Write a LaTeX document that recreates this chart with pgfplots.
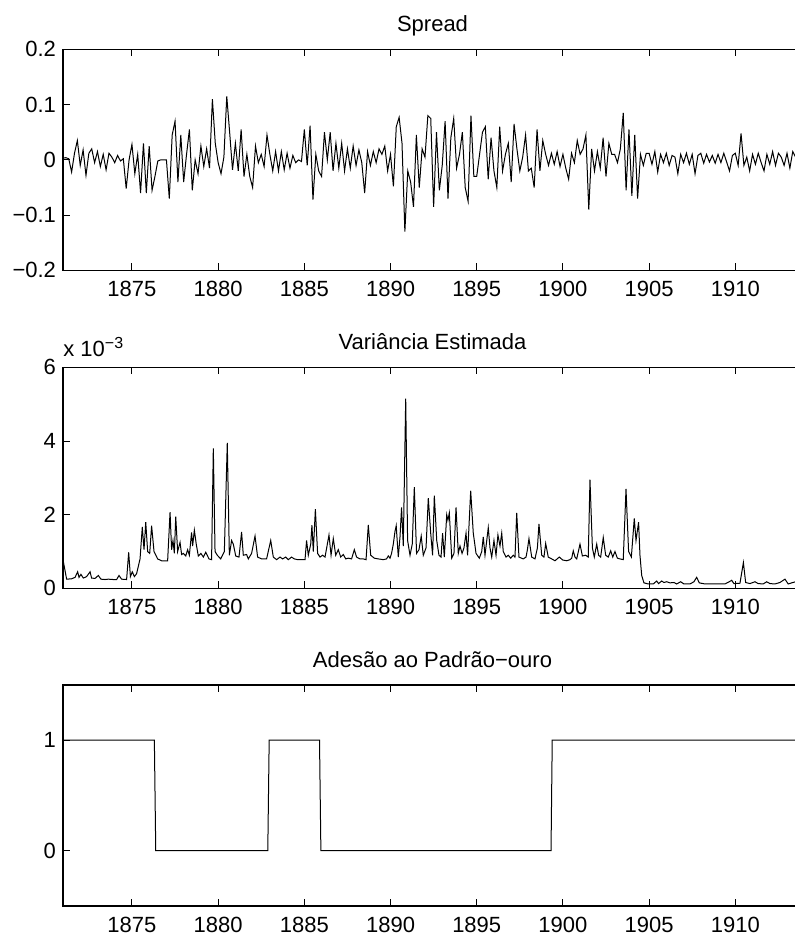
\documentclass[border=0pt]{standalone}
\usepackage{fontspec}
\setmainfont{Liberation Sans}
\usepackage{pgfplots}
\pgfplotsset{compat=1.18}

\pgfplotsset{mstyle/.style={
  scale only axis, width=369.5pt, height=110.5pt,
  anchor=north west,
  xmin=1871, xmax=1913.87,
  xtick={1875,1880,...,1910},
  xticklabels={1875,1880,1885,1890,1895,1900,1905,1910},
  tick align=inside,
  major tick length=3.5pt,
  axis line style={line width=0.6pt},
  every tick/.style={black, line width=0.5pt},
  font=\fontsize{11}{13}\selectfont,
  ticklabel style={font=\fontsize{11}{13}\selectfont},
  xticklabel style={yshift=-2pt},
  title style={at={(0.5,1)}, anchor=base, yshift=2.8pt, font=\fontsize{11}{13}\selectfont},
}}

\begin{document}
\begin{tikzpicture}

% spread
\begin{axis}[mstyle, at={(31.5pt,445.3pt)},
  ymin=-0.2, ymax=0.2,
  ytick={-0.2,-0.1,0,0.1,0.2},
  yticklabels={−0.2,−0.1,0,0.1,0.2},
  title={Spread}]
\addplot[black, line width=0.5pt] table[x expr=1871+\coordindex/6, y index=0, header=false, row sep=\\] {
0.003\\ 0.004\\ 0.002\\ -0.022\\ 0.012\\ 0.035\\
-0.010\\ 0.018\\ -0.028\\ 0.012\\ 0.020\\ -0.005\\
0.015\\ -0.012\\ 0.010\\ -0.018\\ 0.012\\ 0.005\\
-0.005\\ 0.008\\ -0.002\\ 0.002\\ -0.052\\ 0.000\\
0.028\\ -0.025\\ 0.010\\ -0.060\\ 0.030\\ -0.060\\
0.025\\ -0.055\\ -0.030\\ -0.002\\ 0.000\\ 0.000\\
0.000\\ -0.070\\ 0.045\\ 0.070\\ -0.040\\ 0.045\\
-0.040\\ 0.010\\ 0.055\\ -0.055\\ 0.000\\ -0.025\\
0.025\\ -0.012\\ 0.020\\ -0.015\\ 0.110\\ 0.030\\
-0.005\\ -0.025\\ 0.005\\ 0.115\\ 0.050\\ -0.018\\
0.030\\ -0.020\\ 0.055\\ -0.030\\ 0.010\\ -0.030\\
-0.050\\ 0.025\\ -0.005\\ 0.010\\ -0.012\\ 0.045\\
0.010\\ -0.020\\ 0.015\\ -0.020\\ 0.015\\ -0.018\\
0.012\\ -0.015\\ 0.008\\ -0.005\\ 0.000\\ -0.003\\
0.055\\ -0.010\\ 0.062\\ -0.072\\ 0.010\\ -0.020\\
-0.030\\ 0.050\\ 0.000\\ 0.050\\ -0.020\\ 0.030\\
-0.015\\ 0.030\\ -0.020\\ 0.020\\ -0.015\\ 0.025\\
-0.010\\ 0.018\\ -0.005\\ -0.060\\ 0.015\\ -0.010\\
0.015\\ -0.005\\ 0.020\\ 0.010\\ 0.025\\ -0.020\\
0.010\\ -0.048\\ 0.060\\ 0.077\\ 0.030\\ -0.130\\
-0.020\\ -0.040\\ -0.085\\ 0.045\\ -0.050\\ 0.020\\
0.005\\ 0.080\\ 0.075\\ -0.085\\ 0.050\\ -0.055\\
-0.010\\ 0.070\\ -0.070\\ 0.040\\ 0.075\\ -0.015\\
0.010\\ 0.050\\ -0.050\\ -0.075\\ 0.080\\ -0.030\\
-0.030\\ 0.010\\ 0.050\\ 0.060\\ -0.035\\ 0.040\\
-0.020\\ -0.050\\ 0.060\\ -0.020\\ 0.010\\ 0.030\\
-0.040\\ 0.065\\ 0.020\\ -0.020\\ 0.005\\ 0.045\\
-0.020\\ -0.015\\ -0.050\\ 0.055\\ -0.020\\ 0.035\\
0.010\\ -0.010\\ 0.012\\ -0.008\\ 0.015\\ -0.012\\
0.010\\ -0.015\\ -0.035\\ 0.012\\ -0.005\\ 0.035\\
0.010\\ 0.020\\ 0.045\\ -0.090\\ 0.020\\ -0.020\\
0.015\\ -0.015\\ 0.040\\ -0.030\\ 0.030\\ 0.010\\
0.010\\ -0.005\\ 0.020\\ 0.085\\ -0.055\\ 0.055\\
-0.065\\ 0.045\\ -0.070\\ 0.010\\ -0.010\\ 0.012\\
0.012\\ -0.008\\ 0.015\\ -0.022\\ 0.010\\ -0.005\\
0.012\\ -0.010\\ 0.008\\ 0.005\\ -0.025\\ 0.010\\
-0.005\\ 0.012\\ -0.008\\ 0.010\\ -0.025\\ 0.008\\
0.012\\ -0.006\\ 0.010\\ -0.004\\ 0.008\\ -0.006\\
0.010\\ -0.005\\ 0.012\\ -0.004\\ -0.020\\ 0.008\\
0.012\\ -0.010\\ 0.048\\ -0.010\\ 0.005\\ -0.020\\
0.010\\ -0.008\\ 0.012\\ -0.005\\ -0.020\\ 0.010\\
-0.008\\ 0.015\\ -0.010\\ 0.012\\ 0.005\\ -0.010\\
0.012\\ -0.015\\ 0.015\\ 0.005\\
};
\end{axis}

% estimated variance (units of 1e-3)
\begin{axis}[mstyle, at={(31.5pt,286.3pt)}, name=ax2,
  ymin=0, ymax=6,
  ytick={0,2,4,6},
  yticklabels={0,2,4,6},
  title={Variância Estimada}]
\addplot[black, line width=0.5pt] coordinates {
(1871.00,0.78) (1871.21,0.25) (1871.50,0.26) (1871.70,0.30) (1871.85,0.45)
(1871.93,0.30) (1872.04,0.38) (1872.18,0.28) (1872.37,0.32) (1872.57,0.45)
(1872.66,0.28) (1872.86,0.27) (1873.05,0.35) (1873.20,0.25) (1873.44,0.24)
(1873.63,0.25) (1873.92,0.24) (1874.11,0.24) (1874.25,0.35) (1874.40,0.25)
(1874.69,0.24) (1874.81,0.98) (1874.91,0.32) (1875.02,0.45) (1875.14,0.32)
(1875.27,0.40) (1875.47,0.80) (1875.60,1.67) (1875.70,1.05) (1875.80,1.80)
(1875.91,1.00) (1876.03,0.95) (1876.14,1.70) (1876.28,1.00) (1876.49,0.80)
(1876.72,0.75) (1877.07,0.75) (1877.21,2.07) (1877.30,1.05) (1877.38,1.30)
(1877.46,0.95) (1877.54,1.95) (1877.65,1.00) (1877.79,1.25) (1877.88,0.92)
(1877.98,0.95) (1878.12,0.88) (1878.23,1.05) (1878.33,0.90) (1878.46,1.52)
(1878.52,1.15) (1878.62,1.58) (1878.73,1.20) (1878.85,0.88) (1879.00,0.95)
(1879.14,0.85) (1879.28,0.98) (1879.47,0.80) (1879.62,0.78) (1879.72,3.80)
(1879.82,1.00) (1879.95,0.90) (1880.15,0.80) (1880.36,1.00) (1880.53,3.95)
(1880.65,0.90) (1880.78,1.30) (1880.88,1.20) (1881.02,0.88) (1881.21,0.85)
(1881.36,1.53) (1881.46,0.90) (1881.65,0.92) (1881.75,0.80) (1881.94,0.95)
(1882.14,1.42) (1882.29,0.85) (1882.52,0.80) (1882.81,0.80) (1883.05,1.30)
(1883.20,0.85) (1883.39,0.78) (1883.59,0.85) (1883.74,0.80) (1883.92,0.85)
(1884.07,0.78) (1884.26,0.85) (1884.42,0.80) (1884.61,0.78) (1884.84,0.78)
(1885.04,0.78) (1885.13,1.30) (1885.23,0.90) (1885.37,1.20) (1885.44,1.72)
(1885.52,1.00) (1885.64,2.15) (1885.77,0.95) (1885.91,0.85) (1886.06,0.90)
(1886.20,0.85) (1886.43,1.45) (1886.55,0.90) (1886.68,1.35) (1886.82,0.90)
(1886.97,1.05) (1887.11,0.85) (1887.26,0.92) (1887.40,0.80) (1887.55,0.82)
(1887.74,0.80) (1887.90,1.05) (1888.03,0.85) (1888.23,0.80) (1888.42,0.80)
(1888.58,0.78) (1888.71,1.72) (1888.85,0.90) (1889.06,0.82) (1889.29,0.80)
(1889.58,0.78) (1889.77,0.80) (1889.87,0.88) (1889.97,0.82) (1890.06,0.95)
(1890.16,1.20) (1890.26,1.55) (1890.33,1.70) (1890.45,0.85) (1890.55,1.40)
(1890.64,2.20) (1890.74,1.15) (1890.88,5.15) (1890.99,1.30) (1891.13,0.90)
(1891.26,1.20) (1891.38,2.75) (1891.51,0.95) (1891.65,1.05) (1891.78,1.42)
(1891.90,0.90) (1892.06,1.10) (1892.19,2.45) (1892.33,1.50) (1892.44,0.90)
(1892.54,2.52) (1892.68,1.30) (1892.81,0.90) (1892.93,0.85) (1893.02,1.50)
(1893.12,0.85) (1893.26,2.00) (1893.33,1.85) (1893.41,2.05) (1893.55,0.82)
(1893.68,0.95) (1893.80,2.20) (1893.93,0.95) (1894.03,1.15) (1894.15,0.95)
(1894.26,1.10) (1894.38,1.50) (1894.47,0.90) (1894.65,2.65) (1894.80,1.50)
(1894.96,0.95) (1895.15,0.82) (1895.29,1.00) (1895.38,1.40) (1895.48,0.90)
(1895.67,1.65) (1895.77,1.10) (1895.87,0.85) (1896.00,1.30) (1896.12,0.90)
(1896.23,1.45) (1896.35,1.15) (1896.45,1.50) (1896.54,1.00) (1896.70,0.85)
(1896.83,0.90) (1896.97,0.82) (1897.12,0.90) (1897.22,0.85) (1897.32,2.05)
(1897.45,0.85) (1897.70,0.80) (1897.86,0.85) (1897.94,1.05) (1898.03,1.35)
(1898.19,0.85) (1898.38,0.80) (1898.52,1.10) (1898.61,1.75) (1898.77,0.90)
(1898.90,0.85) (1899.00,1.22) (1899.15,0.85) (1899.35,0.80) (1899.54,0.75)
(1899.79,0.85) (1899.99,0.77) (1900.22,0.75) (1900.41,0.78) (1900.51,0.82)
(1900.60,1.02) (1900.70,0.85) (1900.80,0.80) (1900.99,1.20) (1901.13,0.88)
(1901.32,0.90) (1901.47,0.85) (1901.57,2.95) (1901.71,1.10) (1901.82,0.85)
(1901.96,1.20) (1902.07,0.90) (1902.19,0.85) (1902.34,1.38) (1902.48,0.90)
(1902.63,0.85) (1902.77,1.02) (1902.89,0.85) (1903.02,1.00) (1903.16,0.82)
(1903.31,0.80) (1903.50,0.78) (1903.66,2.70) (1903.81,1.00) (1903.97,0.85)
(1904.14,1.90) (1904.24,1.30) (1904.39,1.80) (1904.47,0.90) (1904.57,0.35)
(1904.70,0.15) (1904.95,0.12) (1905.24,0.12) (1905.44,0.20) (1905.55,0.13)
(1905.73,0.20) (1905.86,0.16) (1906.02,0.18) (1906.21,0.15) (1906.44,0.16)
(1906.60,0.12) (1906.83,0.18) (1907.02,0.12) (1907.37,0.12) (1907.60,0.18)
(1907.76,0.30) (1907.91,0.15) (1908.24,0.12) (1908.63,0.12) (1909.01,0.12)
(1909.40,0.12) (1909.65,0.18) (1909.79,0.22) (1909.92,0.13) (1910.27,0.14)
(1910.47,0.70) (1910.60,0.16) (1910.85,0.13) (1911.14,0.18) (1911.33,0.13)
(1911.62,0.12) (1911.82,0.18) (1912.01,0.13) (1912.30,0.12) (1912.59,0.16)
(1912.88,0.25) (1913.07,0.12) (1913.27,0.15) (1913.50,0.18)
};
\end{axis}
\node[anchor=base west, inner sep=0pt, font=\fontsize{11}{13}\selectfont] at ([yshift=5.3pt]ax2.north west) {x 10\raisebox{4.2pt}{\fontsize{8}{9}\selectfont −3}};

% gold standard adherence
\begin{axis}[mstyle, at={(31.5pt,127.5pt)},
  ymin=-0.5, ymax=1.5,
  ytick={0,1},
  yticklabels={0,1},
  title={Adesão ao Padrão−ouro}]
\addplot[black, line width=0.5pt] coordinates {
(1871.00,1) (1876.30,1) (1876.38,0) (1882.88,0) (1882.96,1) (1885.88,1)
(1885.96,0) (1899.31,0) (1899.38,1) (1913.87,1)
};
\end{axis}

\pgfresetboundingbox
\path[use as bounding box] (0,0) rectangle (397pt,470pt);
\end{tikzpicture}
\end{document}
